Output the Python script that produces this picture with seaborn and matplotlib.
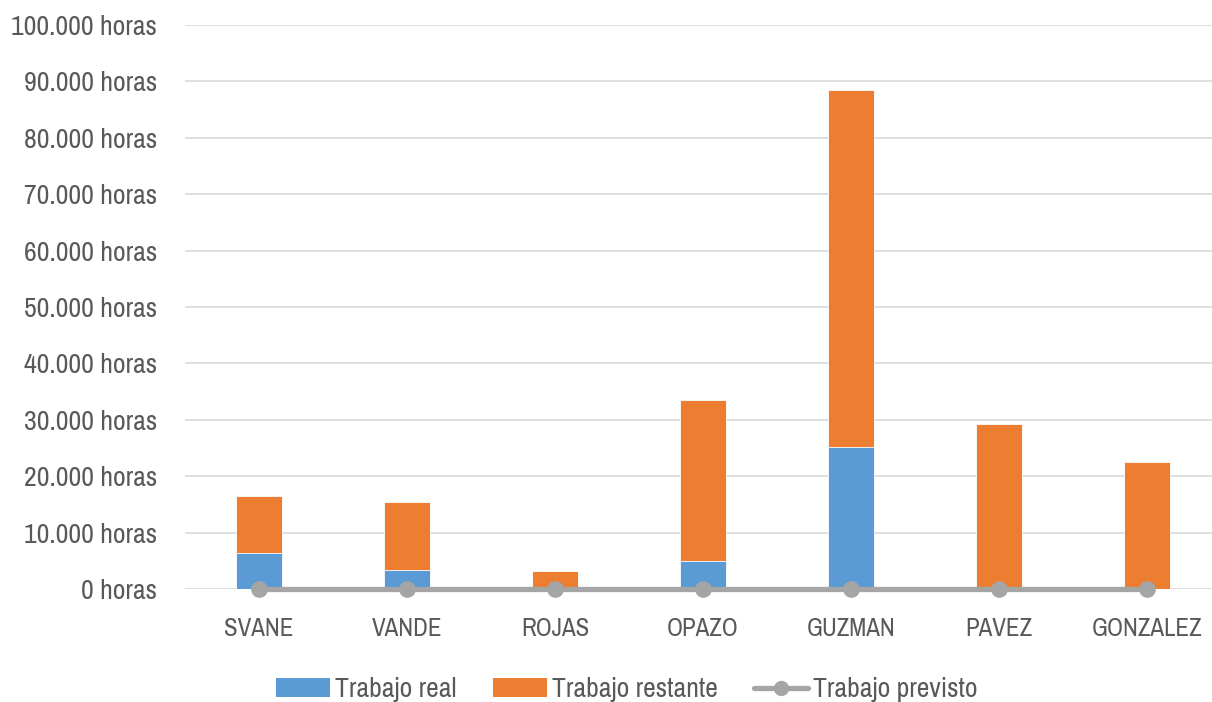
import numpy as np
import pandas as pd
import matplotlib
matplotlib.use("Agg")
import matplotlib.pyplot as plt
import seaborn as sns
from matplotlib.ticker import FuncFormatter
from matplotlib.lines import Line2D
from matplotlib.patches import Patch
from matplotlib import font_manager

# datos del gráfico
responsables = ["SVANE", "VANDE", "ROJAS", "OPAZO", "GUZMAN", "PAVEZ", "GONZALEZ"]
trabajo_real = [6300, 3400, 0, 5000, 25200, 0, 0]
trabajo_restante = [10200, 12000, 3200, 28500, 63300, 29300, 22500]
trabajo_previsto = [0, 0, 0, 0, 0, 0, 0]

sns.set_style("white")

# buscar una fuente estrecha si existe
condensada = None
for f in font_manager.fontManager.ttflist:
    if "narrow" in f.name.lower() or "condensed" in f.name.lower():
        condensada = f.name
        break
if condensada is not None:
    plt.rcParams["font.family"] = [condensada, "DejaVu Sans"]
    tam_y, tam_x, tam_leg = 20, 18, 20
else:
    plt.rcParams["font.family"] = ["DejaVu Sans"]
    tam_y, tam_x, tam_leg = 15, 14, 15

azul = "#5B9BD5"
naranja = "#ED7D31"
gris = "#A5A5A5"
texto = "#595959"

df = pd.DataFrame({
    "responsable": responsables,
    "real": trabajo_real,
    "restante": trabajo_restante,
    "previsto": trabajo_previsto,
})
df["total"] = df["real"] + df["restante"]

fig = plt.figure(figsize=(12.12, 7.02), dpi=100)
ax = fig.add_axes([185 / 1212, 1 - 589 / 702, 1027 / 1212, 564 / 702])

sns.barplot(data=df, x="responsable", y="total", color=naranja, width=0.31,
            saturation=1, ax=ax, zorder=2)
sns.barplot(data=df, x="responsable", y="real", color=azul, width=0.31,
            saturation=1, ax=ax, zorder=3)
for p in ax.patches:
    p.set_edgecolor("white")
    p.set_linewidth(0.6)

ax.plot(range(len(responsables)), df["previsto"], color=gris, lw=3.8,
        marker="o", markersize=11, zorder=4, clip_on=False)

ax.set_ylim(0, 100000)
ax.set_xlim(-0.5, 6.44)
ax.set_yticks(np.arange(0, 100001, 10000))
ax.yaxis.set_major_formatter(FuncFormatter(lambda v, _: f"{int(v):,} horas".replace(",", ".")))
ax.grid(axis="y", color="#D9D9D9", lw=1.2, zorder=0)
ax.set_axisbelow(True)
for s in ax.spines.values():
    s.set_visible(False)
ax.tick_params(axis="both", length=0, colors=texto)
ax.tick_params(axis="y", pad=20, labelsize=tam_y)
ax.tick_params(axis="x", pad=20, labelsize=tam_x)
ax.set_xlabel("")
ax.set_ylabel("")

handles = [
    Patch(facecolor=azul, edgecolor="none"),
    Patch(facecolor=naranja, edgecolor="none"),
    Line2D([0], [0], color=gris, lw=3.8, marker="o", markersize=10),
]
leg = fig.legend(handles, ["Trabajo real", "Trabajo restante", "Trabajo previsto"],
                 loc="lower center", bbox_to_anchor=(0.517, -0.036), ncol=3,
                 frameon=False, fontsize=tam_leg, handlelength=1.95, handleheight=0.65,
                 handletextpad=0.18, columnspacing=1.3)
for t in leg.get_texts():
    t.set_color(texto)

fig.savefig("out.png", dpi=100)
